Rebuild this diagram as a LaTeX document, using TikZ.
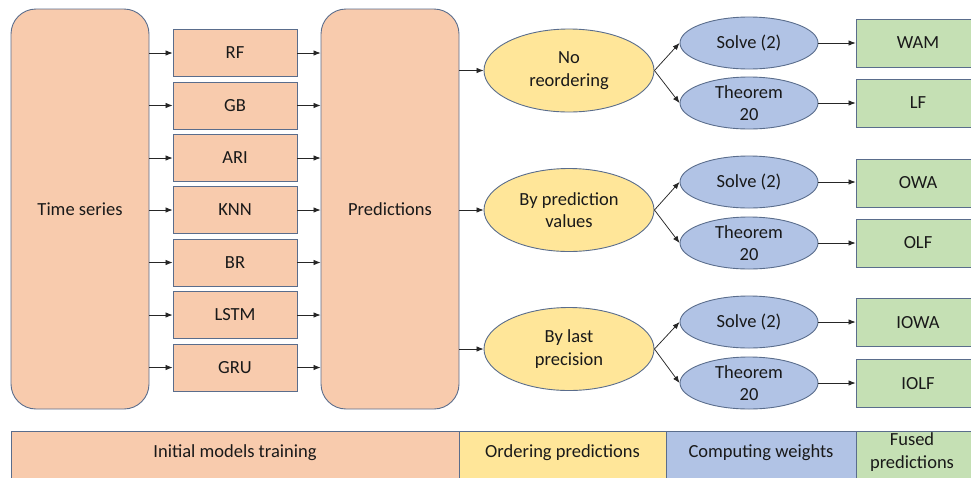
\documentclass[tikz,border=0pt]{standalone}
\usepackage{fontspec}
\setmainfont{Carlito}
\usetikzlibrary{arrows.meta,shapes.geometric}
\definecolor{bord}{HTML}{5A6D8C}
\definecolor{orangef}{HTML}{F8CBAD}
\definecolor{yellowf}{HTML}{FFE699}
\definecolor{bluef}{HTML}{B1C3E5}
\definecolor{greenf}{HTML}{C5E0B4}
\begin{document}
\begin{tikzpicture}[x=1pt,y=-1pt,
  every node/.style={font=\fontsize{18.5}{22.6}\selectfont, text=black!90, align=center, inner sep=0pt},
  bigbox/.style={draw=bord, line width=0.9pt, fill=orangef, rounded corners=25pt, minimum width=138pt, minimum height=400pt},
  modelbox/.style={draw=bord, line width=0.9pt, fill=orangef, minimum width=124pt, minimum height=47pt},
  ordell/.style={draw=bord, line width=0.9pt, fill=yellowf, ellipse, minimum width=170pt, minimum height=83pt},
  well/.style={draw=bord, line width=0.9pt, fill=bluef, ellipse, minimum width=138pt, minimum height=52pt},
  fusedbox/.style={draw=bord, line width=0.9pt, fill=greenf, minimum width=124pt, minimum height=48pt},
  bar/.style={draw=bord, line width=0.9pt, minimum height=51pt},
  conn/.style={draw=black!85, line width=0.75pt, -{Latex[length=7pt,width=5.5pt]}}
]
\useasboundingbox (0,0) rectangle (971,477);

\node[bigbox] (ts) at (80,209) {Time series};
\node[bigbox] (pred) at (390,209) {Predictions};

\node[modelbox] (rf) at (235,53) {RF};
\node[modelbox] (gb) at (235,105.5) {GB};
\node[modelbox] (ari) at (235,158) {ARI};
\node[modelbox] (knn) at (235,210) {KNN};
\node[modelbox] (br) at (235,262.5) {BR};
\node[modelbox] (lstm) at (235,315) {LSTM};
\node[modelbox] (gru) at (235,367.5) {GRU};

\foreach \m in {rf,gb,ari,knn,br,lstm,gru}{
  \draw[conn] (ts.east |- \m.west) -- (\m.west);
  \draw[conn] (\m.east) -- (pred.west |- \m.east);
}

\node[ordell] (o1) at (569,70.5) {No\\reordering};
\node[ordell] (o2) at (569,210) {By prediction\\values};
\node[ordell] (o3) at (569,349) {By last\\precision};

\foreach \o in {o1,o2,o3}{
  \draw[conn] (pred.east |- \o.west) -- (\o.west);
}

\node[well] (s1) at (749,43) {Solve (2)};
\node[well] (t1) at (749,103) {Theorem\\20};
\node[well] (s2) at (749,182) {Solve (2)};
\node[well] (t2) at (749,243) {Theorem\\20};
\node[well] (s3) at (749,322) {Solve (2)};
\node[well] (t3) at (749,383) {Theorem\\20};

\draw[conn] (o1.east) -- (s1.west);
\draw[conn] (o1.east) -- (t1.west);
\draw[conn] (o2.east) -- (s2.west);
\draw[conn] (o2.east) -- (t2.west);
\draw[conn] (o3.east) -- (s3.west);
\draw[conn] (o3.east) -- (t3.west);

\node[fusedbox] (wam) at (918,43) {WAM};
\node[fusedbox] (lf) at (918,103) {LF};
\node[fusedbox] (owa) at (918,183) {OWA};
\node[fusedbox] (olf) at (918,243) {OLF};
\node[fusedbox] (iowa) at (918,322.5) {IOWA};
\node[fusedbox] (iolf) at (918,383.5) {IOLF};

\draw[conn] (s1.east) -- (wam.west |- s1.east);
\draw[conn] (t1.east) -- (lf.west |- t1.east);
\draw[conn] (s2.east) -- (owa.west |- s2.east);
\draw[conn] (t2.east) -- (olf.west |- t2.east);
\draw[conn] (s3.east) -- (iowa.west |- s3.east);
\draw[conn] (t3.east) -- (iolf.west |- t3.east);

\node[bar, fill=orangef, minimum width=448pt] (b1) at (235,456.5) {};
\node at (235,453) {Initial models training};
\node[bar, fill=yellowf, minimum width=207pt] (b2) at (562.5,456.5) {};
\node at (562.5,453) {Ordering predictions};
\node[bar, fill=bluef, minimum width=190pt] (b3) at (761,456.5) {};
\node at (761,453) {Computing weights};
\node[bar, fill=greenf, minimum width=124pt] (b4) at (918,456.5) {};
\node at (912,452) {Fused\\predictions};
\end{tikzpicture}
\end{document}
